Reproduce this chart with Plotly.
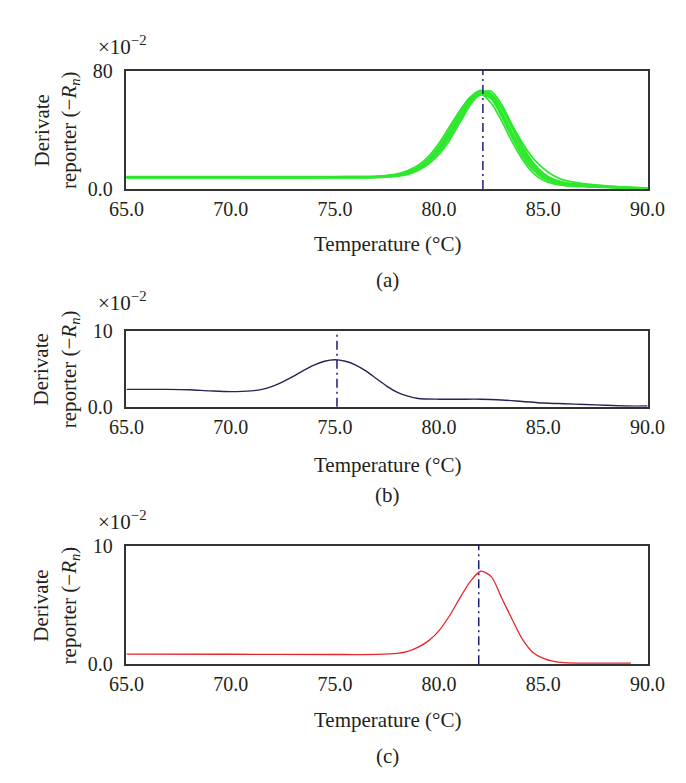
import plotly.graph_objects as go

# ---------------- data ----------------
temp_a = [65, 70, 75, 77, 78, 78.5, 79, 79.5, 80, 80.5, 81, 81.5, 82, 82.5, 83, 83.5,
          84, 84.5, 85, 85.5, 86, 87, 88, 89, 90]
curves_a = [
    [8.0, 8.0, 8.0, 8.2, 9.5, 11, 14, 19, 27, 37, 49, 60, 66, 63, 52, 38, 25, 15, 8.5, 5, 3.2, 2.0, 1.4, 0.9, 0.5],
    [8.3, 8.3, 8.3, 8.6, 10.2, 12.5, 16, 22, 31, 42, 53, 62, 64, 58, 46, 32, 20, 11, 6, 3.5, 2.4, 1.6, 1.1, 0.7, 0.4],
    [7.6, 7.6, 7.6, 7.8, 8.8, 10, 12.5, 17, 23.5, 33, 45, 57, 65, 66, 57, 43, 29, 18, 10.5, 6, 3.8, 2.3, 1.5, 1.0, 0.6],
    [8.0, 8.0, 8.0, 8.2, 9.4, 10.8, 13.5, 18.5, 26, 36, 48, 59, 65, 64, 55, 43, 31, 21, 14, 9, 6, 3.5, 2.2, 1.3, 0.7],
    [7.8, 7.8, 7.8, 8.0, 9.2, 10.8, 14, 19.5, 28, 39, 51, 61, 65, 61, 49, 35, 22, 13, 7.5, 4.5, 3.0, 1.9, 1.3, 0.8, 0.5],
    [8.4, 8.4, 8.4, 8.6, 9.8, 11.5, 14.5, 19.5, 27, 37, 48, 58, 63.5, 61, 51, 38, 26, 16, 9.5, 5.5, 3.5, 2.2, 1.5, 1.0, 0.6],
    [8.1, 8.1, 8.1, 8.3, 9.6, 11.3, 14.8, 20.5, 29, 40, 52, 62, 66.5, 62, 50, 36, 23, 13.5, 7.5, 4.5, 3.0, 2.0, 1.4, 0.9, 0.5],
    [7.9, 7.9, 7.9, 8.1, 9.0, 10.4, 13, 17.5, 25, 35, 47, 58.5, 65.5, 64.5, 54.5, 41, 28, 17.5, 10.5, 6.5, 4.5, 3.0, 2.0, 1.2, 0.6],
]

temp_b = [65, 66, 67, 68, 69, 70, 71, 71.5, 72, 72.5, 73, 73.5, 74, 74.5, 75, 75.5, 76,
          76.5, 77, 77.5, 78, 78.5, 79, 80, 81, 82, 83, 84, 85, 86, 87, 88, 89, 90]
values_b = [2.3, 2.3, 2.3, 2.25, 2.1, 2.0, 2.1, 2.3, 2.7, 3.3, 4.0, 4.8, 5.5, 6.0, 6.2, 6.0, 5.5,
            4.7, 3.7, 2.7, 1.9, 1.4, 1.1, 1.0, 1.0, 1.0, 0.9, 0.7, 0.5, 0.4, 0.3, 0.2, 0.1, 0.1]

temp_c = [65, 70, 75, 77, 78, 78.5, 79, 79.5, 80, 80.5, 81, 81.5, 82, 82.5, 83, 83.5, 84,
          84.5, 85, 85.5, 86, 87, 88, 89.2]
values_c = [0.87, 0.85, 0.83, 0.84, 0.93, 1.1, 1.45, 2.0, 2.85, 4.1, 5.6, 7.0, 7.85, 7.4, 5.6, 3.8,
            2.1, 1.0, 0.5, 0.25, 0.15, 0.1, 0.1, 0.1]

peak_temps = [82.1, 75.1, 81.9]
y_max = [80, 10, 10]
y_ticktext = [["0.0", "80"], ["0.0", "10"], ["0.0", "10"]]
x_ticks = [65, 70, 75, 80, 85, 90]
panel_labels = ["(a)", "(b)", "(c)"]

# ---------------- layout geometry (pixels) ----------------
W, H = 686, 783
x_left, x_right = 106, 656
panels_px = [(53, 175), (321, 399), (542, 664)]
xtitle_y = [231, 459, 721]
label_y = [269, 490, 758]
mult_y = [27, 291, 516]

FONT = "Liberation Serif"
TXT = "#231f20"
fig = go.Figure()

green = "#2ee82e"
for vals in curves_a:
    fig.add_trace(go.Scatter(x=temp_a, y=vals, mode="lines",
                             line=dict(color=green, width=1.8, shape="spline", smoothing=0.8),
                             xaxis="x", yaxis="y", showlegend=False, hoverinfo="skip"))
fig.add_trace(go.Scatter(x=temp_b, y=values_b, mode="lines",
                         line=dict(color="#262355", width=1.4, shape="spline", smoothing=0.8),
                         xaxis="x2", yaxis="y2", showlegend=False))
fig.add_trace(go.Scatter(x=temp_c, y=values_c, mode="lines",
                         line=dict(color="#e8262b", width=1.3, shape="spline", smoothing=0.8),
                         xaxis="x3", yaxis="y3", showlegend=False))

layout = dict(width=W, height=H, margin=dict(l=0, r=0, t=0, b=0),
              paper_bgcolor="white", plot_bgcolor="white",
              font=dict(family=FONT, size=20, color=TXT), showlegend=False)

annotations = []
shapes = []
for i, (top, bot) in enumerate(panels_px):
    sfx = "" if i == 0 else str(i + 1)
    layout["xaxis" + sfx] = dict(
        domain=[x_left / W, x_right / W], range=[65, 90], anchor="y" + sfx,
        tickvals=x_ticks, tickformat=".1f", ticks="", showgrid=False, zeroline=False,
        showline=True, mirror=True, linecolor="#333", linewidth=1.5,
        tickfont=dict(family=FONT, size=20, color=TXT), ticklabelstandoff=1)
    layout["yaxis" + sfx] = dict(
        domain=[1 - bot / H, 1 - top / H], range=[0, y_max[i]], anchor="x" + sfx,
        tickvals=[0, y_max[i]], ticktext=y_ticktext[i], ticks="", showgrid=False,
        zeroline=False, showline=True, mirror=True, linecolor="#333", linewidth=1.5,
        tickfont=dict(family=FONT, size=20, color=TXT), ticklabelstandoff=8)
    cy = (top + bot) / 2
    annotations += [
        dict(text="Derivate<br>reporter (−<i>R<sub>n</sub></i>)", textangle=-90,
             x=32 / W, y=1 - cy / H, xref="paper", yref="paper", showarrow=False,
             font=dict(family=FONT, size=21, color=TXT), xanchor="center", yanchor="middle"),
        dict(text="×10<sup>−2</sup>", x=101 / W, y=1 - mult_y[i] / H, xref="paper", yref="paper",
             showarrow=False, font=dict(family=FONT, size=21, color=TXT),
             xanchor="center", yanchor="middle"),
        dict(text="Temperature (°C)", x=381 / W, y=1 - xtitle_y[i] / H, xref="paper", yref="paper",
             showarrow=False, font=dict(family=FONT, size=21, color=TXT),
             xanchor="center", yanchor="middle"),
        dict(text=panel_labels[i], x=381 / W, y=1 - label_y[i] / H, xref="paper", yref="paper",
             showarrow=False, font=dict(family=FONT, size=21, color=TXT),
             xanchor="center", yanchor="middle"),
    ]
    shapes.append(dict(type="line", xref="x" + sfx, yref="y" + sfx + " domain",
                       x0=peak_temps[i], x1=peak_temps[i], y0=0, y1=1,
                       line=dict(color="#1c1c7a", width=1.5, dash="9px,4px,2px,4px")))

layout["annotations"] = annotations
layout["shapes"] = shapes
fig.update_layout(**layout)
fig.write_html("out.html")
